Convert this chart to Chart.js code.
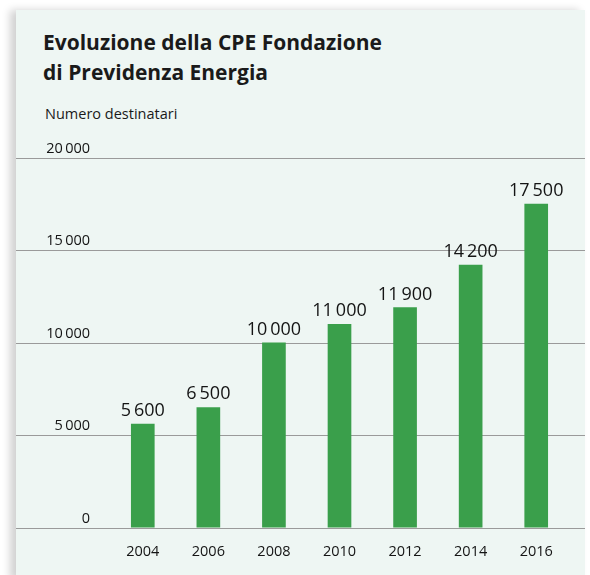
<!DOCTYPE html>
<html>
<head>
<meta charset="utf-8">
<script src="https://cdn.jsdelivr.net/npm/chart.js@4"></script>
<style>
  body{margin:0;background:#fff;font-family:"Open Sans",sans-serif;}
  #wrap{position:relative;width:590px;height:575px;overflow:hidden;}
  #panel{position:absolute;left:16px;top:10px;width:569px;height:570px;background:#eef6f3;
    box-shadow:-6px 0 8px rgba(0,0,0,.18);}
  #title{position:absolute;left:43px;top:27px;font-weight:bold;font-size:21px;line-height:30px;color:#1a1a1a;}
  #unit{position:absolute;left:45px;top:104px;font-size:14.5px;color:#1a1a1a;}
  canvas{position:absolute;left:0;top:0;}
</style>
</head>
<body>
<div id="wrap">
  <div id="panel"></div>
  <div id="title">Evoluzione della CPE Fondazione<br>di Previdenza Energia</div>
  <div id="unit">Numero destinatari</div>
  <canvas id="c" width="590" height="575"></canvas>
</div>
<script>
// dati
const anni = ['2004','2006','2008','2010','2012','2014','2016'];
const destinatari = [5600, 6500, 10000, 11000, 11900, 14200, 17500];
const tickY = [0, 5000, 10000, 15000, 20000];

const verde = '#3a9f4b';
const testo = '#141414';

// separatore migliaia con spazio sottile
function fmt(v){
  return String(v).replace(/\B(?=(\d{3})+(?!\d))/g, '\u2009');
}

// griglia orizzontale su tutta la larghezza del pannello + etichette asse y sopra le linee
const gridPlugin = {
  id:'gridPlugin',
  beforeDatasetsDraw(chart){
    const ctx = chart.ctx, y = chart.scales.y;
    ctx.save();
    ctx.strokeStyle = '#9a9a9a';
    ctx.lineWidth = 1.2;
    ctx.font = '14.5px "Open Sans"';
    ctx.fillStyle = testo;
    ctx.textAlign = 'right';
    ctx.textBaseline = 'alphabetic';
    tickY.forEach(v=>{
      const py = Math.round(y.getPixelForValue(v)) + 0.5;
      ctx.beginPath(); ctx.moveTo(16, py); ctx.lineTo(585, py); ctx.stroke();
      ctx.fillText(fmt(v), 90, py - 6);
    });
    ctx.restore();
  }
};

// valori sopra le barre
const valuePlugin = {
  id:'valuePlugin',
  afterDatasetsDraw(chart){
    const ctx = chart.ctx;
    const meta = chart.getDatasetMeta(0);
    ctx.save();
    ctx.font = '18px "Open Sans"';
    ctx.fillStyle = testo;
    ctx.textAlign = 'center';
    ctx.textBaseline = 'alphabetic';
    meta.data.forEach((bar,i)=>{
      ctx.fillText(fmt(destinatari[i]), bar.x, bar.y - 8);
    });
    ctx.restore();
  }
};

new Chart(document.getElementById('c'),{
  type:'bar',
  data:{labels:anni, datasets:[{data:destinatari, backgroundColor:verde, barThickness:23}]},
  options:{
    responsive:false, animation:false,
    layout:{padding:{left:110, right:21, top:158, bottom:6}},
    plugins:{legend:{display:false}, tooltip:{enabled:false}},
    scales:{
      x:{grid:{display:false}, border:{display:false},
         ticks:{color:testo, font:{family:'Open Sans', size:14.5}, padding:8}},
      y:{display:false, min:0, max:20000}
    }
  },
  plugins:[gridPlugin, valuePlugin]
});
</script>
</body>
</html>
